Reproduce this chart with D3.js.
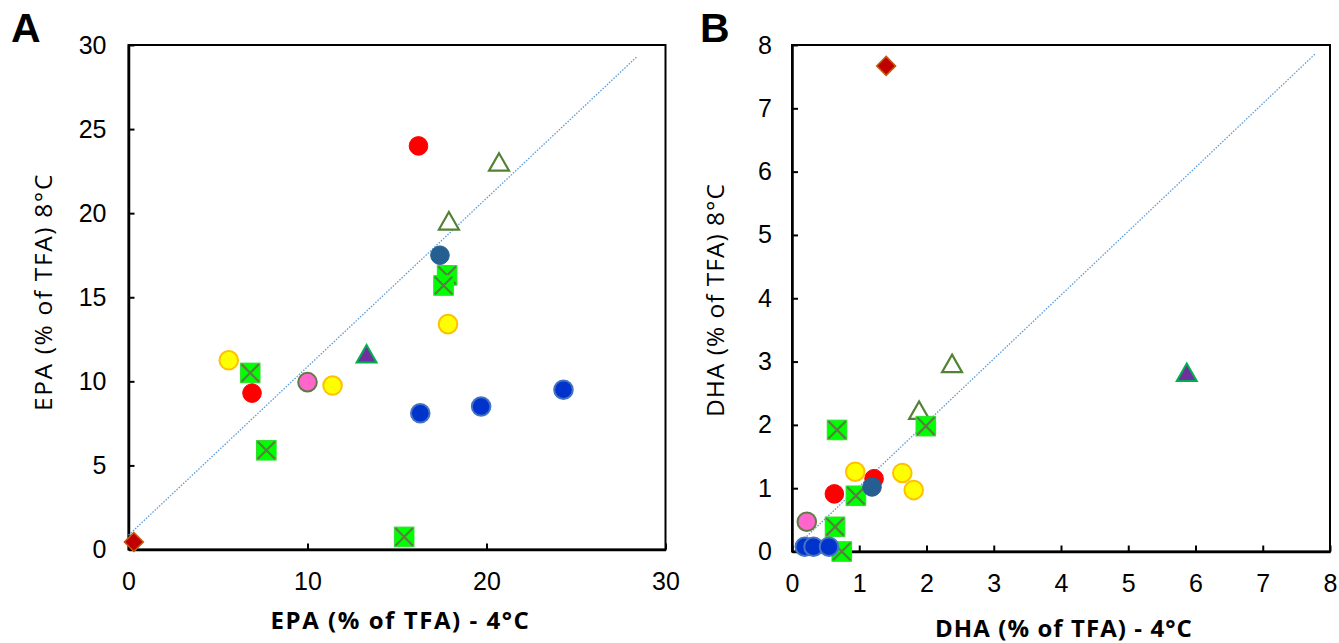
<!DOCTYPE html>
<html><head><meta charset="utf-8">
<script src="https://cdn.jsdelivr.net/npm/d3@7"></script>
<style>
html,body{margin:0;padding:0;background:#fff;}
svg{display:block;}
</style></head>
<body>
<svg id="chart" width="1339" height="643"></svg>
<script>
// ---------- DATA ----------
// series keys (marker styles)
const seriesKeys = ["diamond","openTri","greenBox","red","yellow","steel","pink","purpleTri","blue"];

// Panel A: EPA (% of TFA), 4°C (x) vs 8°C (y)
const epaSeries = ["diamond","openTri","openTri","greenBox","greenBox","greenBox","greenBox","greenBox","red","red","yellow","yellow","yellow","steel","pink","purpleTri","blue","blue","blue"];
const epa4C =     [0.3, 20.7, 17.9, 17.8, 17.6, 6.8, 7.7, 15.4, 16.2, 6.9, 17.85, 5.6, 11.4, 17.4, 10.0, 13.3, 16.3, 19.7, 24.3];
const epa8C =     [0.45, 23.0, 19.5, 16.3, 15.7, 10.5, 5.9, 0.75, 24.0, 9.3, 13.4, 11.25, 9.75, 17.5, 9.95, 11.6, 8.1, 8.5, 9.5];

// Panel B: DHA (% of TFA), 4°C (x) vs 8°C (y)
const dhaSeries = ["diamond","openTri","openTri","greenBox","greenBox","greenBox","greenBox","greenBox","red","red","yellow","yellow","yellow","steel","pink","purpleTri","blue","blue","blue"];
const dha4C =     [1.40, 2.38, 1.89, 0.67, 1.99, 0.95, 0.64, 0.74, 1.22, 0.63, 0.94, 1.64, 1.81, 1.19, 0.22, 5.87, 0.19, 0.32, 0.55];
const dha8C =     [7.67, 2.96, 2.22, 1.92, 1.98, 0.88, 0.39, 0.0, 1.15, 0.91, 1.26, 1.24, 0.97, 1.02, 0.47, 2.82, 0.076, 0.076, 0.076];

// reference dotted line end points
const epaLineX = [0, 28.4];
const epaLineY = [0.85, 29.3];
const dhaLineX = [0.12, 7.78];
const dhaLineY = [0.14, 7.86];

// tick values
const epaTicksX = [0, 10, 20, 30];
const epaTicksY = [0, 5, 10, 15, 20, 25, 30];
const dhaTicksX = [0, 1, 2, 3, 4, 5, 6, 7, 8];
const dhaTicksY = [0, 1, 2, 3, 4, 5, 6, 7, 8];

// labels
const panelLabels = ["A", "B"];
const xTitles = ["EPA (% of TFA) - 4°C", "DHA (% of TFA) - 4°C"];
const yTitles = ["EPA (% of TFA) 8°C", "DHA (% of TFA) 8°C"];

// ---------- STYLES ----------
const styles = {
  diamond:   {shape:"diamond", fill:"#C00000", stroke:"#C55A11", sw:1.5},
  openTri:   {shape:"tri", fill:"#FFFFFF", stroke:"#548235", sw:2.2},
  greenBox:  {shape:"xbox", fill:"#00FF00", stroke:"#33DD33", sw:1, cross:"#5E7B45"},
  red:       {shape:"circle", fill:"#FF0000", stroke:"#FF0000", sw:1},
  yellow:    {shape:"circle", fill:"#FFFF00", stroke:"#FFC000", sw:2},
  steel:     {shape:"circle", fill:"#255E91", stroke:"#255E91", sw:1},
  pink:      {shape:"circle", fill:"#FF66CC", stroke:"#5E7B45", sw:2},
  purpleTri: {shape:"tri", fill:"#7030A0", stroke:"#00B050", sw:2},
  blue:      {shape:"circle", fill:"#0033CC", stroke:"#4472C4", sw:2}
};
const drawOrder = seriesKeys;

const svg = d3.select("#chart");
const FONT = "'Liberation Sans', Arial, sans-serif";
const TITLEFONT = "'Open Sans', 'Segoe UI', sans-serif";

// widen text to a target length using letter spacing
function fitSpacing(sel, target) {
  const len = sel.node().getComputedTextLength();
  const n = sel.text().length;
  if (len > 0 && n > 1) sel.attr("letter-spacing", ((target - len) / n).toFixed(2));
}

function panel(cfg) {
  const x = d3.scaleLinear().domain(cfg.xDom).range([cfg.left, cfg.right]);
  const y = d3.scaleLinear().domain(cfg.yDom).range([cfg.bottom, cfg.top]);
  const g = svg.append("g");

  // box
  g.append("rect").attr("x", cfg.left).attr("y", cfg.top)
    .attr("width", cfg.right - cfg.left).attr("height", cfg.bottom - cfg.top)
    .attr("fill", "none").attr("stroke", "#000").attr("stroke-width", 2);

  // axes
  const ax = g.append("g").attr("transform", `translate(0,${cfg.bottom})`)
    .call(d3.axisBottom(x).tickValues(cfg.xTicks).tickSizeInner(-6).tickSizeOuter(0).tickPadding(23));
  const ay = g.append("g").attr("transform", `translate(${cfg.left},0)`)
    .call(d3.axisLeft(y).tickValues(cfg.yTicks).tickSizeInner(-6).tickSizeOuter(0).tickPadding(cfg.yPad));
  [ax, ay].forEach(a => {
    a.select(".domain").attr("stroke", "#000").attr("stroke-width", 2.5);
    a.selectAll(".tick line").attr("stroke", "#000").attr("stroke-width", 2);
    a.selectAll(".tick text").attr("font-family", FONT).attr("font-size", 25).attr("fill", "#000");
  });

  // dotted reference line
  g.append("line")
    .attr("x1", x(cfg.lineX[0])).attr("y1", y(cfg.lineY[0]))
    .attr("x2", x(cfg.lineX[1])).attr("y2", y(cfg.lineY[1]))
    .attr("stroke", "#5B9BD5").attr("stroke-width", 1.3).attr("stroke-dasharray", "1.5,1.5");

  // markers
  const pts = cfg.xs.map((v, i) => ({x: v, y: cfg.ys[i], s: cfg.ser[i]}));
  drawOrder.forEach(key => {
    const st = styles[key];
    pts.filter(p => p.s === key).forEach(p => {
      const cx = x(p.x), cy = y(p.y);
      if (st.shape === "circle") {
        g.append("circle").attr("cx", cx).attr("cy", cy).attr("r", 9.3)
          .attr("fill", st.fill).attr("stroke", st.stroke).attr("stroke-width", st.sw);
      } else if (st.shape === "tri") {
        const h = 9.5;
        g.append("path").attr("d", `M${cx},${cy - h}L${cx + 10},${cy + 8}L${cx - 10},${cy + 8}Z`)
          .attr("fill", st.fill).attr("stroke", st.stroke).attr("stroke-width", st.sw);
      } else if (st.shape === "diamond") {
        g.append("path").attr("d", `M${cx},${cy - 9.5}L${cx + 9.5},${cy}L${cx},${cy + 9.5}L${cx - 9.5},${cy}Z`)
          .attr("fill", st.fill).attr("stroke", st.stroke).attr("stroke-width", st.sw);
      } else if (st.shape === "xbox") {
        const s = 9.8;
        g.append("rect").attr("x", cx - s).attr("y", cy - s).attr("width", 2 * s).attr("height", 2 * s)
          .attr("fill", st.fill).attr("stroke", st.stroke).attr("stroke-width", st.sw);
        g.append("path").attr("d", `M${cx - s + 1},${cy - s + 1}L${cx + s - 1},${cy + s - 1}M${cx + s - 1},${cy - s + 1}L${cx - s + 1},${cy + s - 1}`)
          .attr("stroke", st.cross).attr("stroke-width", 2.2).attr("fill", "none");
      }
    });
  });

  // titles
  const xt = g.append("text").attr("x", cfg.xtX).attr("y", cfg.xtY).attr("text-anchor", "middle")
    .attr("dominant-baseline", "central").attr("font-family", TITLEFONT).attr("font-weight", "bold")
    .attr("font-size", 24).text(cfg.xTitle);
  fitSpacing(xt, cfg.xtW);
  const yt = g.append("text").attr("transform", `translate(${cfg.ytX},${cfg.ytY}) rotate(-90)`).attr("text-anchor", "middle")
    .attr("dominant-baseline", "central").attr("font-family", TITLEFONT)
    .attr("font-size", 24.5).text(cfg.yTitle);
  fitSpacing(yt, cfg.ytW);
  g.append("text").attr("x", cfg.plX).attr("y", 42).attr("font-family", FONT).attr("font-weight", "bold")
    .attr("font-size", 41).text(cfg.label);
}

panel({xDom:[0,30], yDom:[0,30], left:128.5, right:665.5, top:45, bottom:549.5,
  xTicks:epaTicksX, yTicks:epaTicksY, yPad:22, xs:epa4C, ys:epa8C, ser:epaSeries,
  lineX:epaLineX, lineY:epaLineY, xTitle:xTitles[0], yTitle:yTitles[0],
  xtX:400.5, xtY:619, xtW:260, ytX:42, ytY:292, ytW:238, plX:11, label:panelLabels[0]});

panel({xDom:[0,8], yDom:[0,8], left:792, right:1330, top:45, bottom:551.5,
  xTicks:dhaTicksX, yTicks:dhaTicksY, yPad:20, xs:dha4C, ys:dha8C, ser:dhaSeries,
  lineX:dhaLineX, lineY:dhaLineY, xTitle:xTitles[1], yTitle:yTitles[1],
  xtX:1064, xtY:627, xtW:258, ytX:714, ytY:300, ytW:234, plX:700, label:panelLabels[1]});
</script>
</body></html>
